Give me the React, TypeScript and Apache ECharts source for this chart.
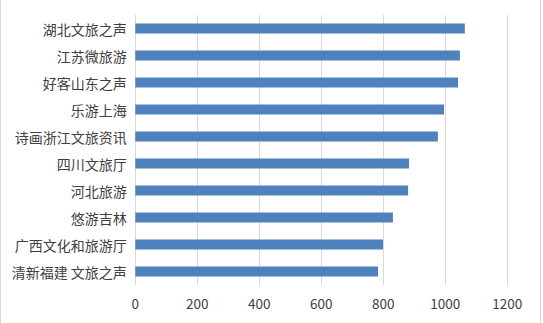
import React, { useEffect, useRef } from "react";
import * as echarts from "echarts";

const categories = [
  "湖北文旅之声",
  "江苏微旅游",
  "好客山东之声",
  "乐游上海",
  "诗画浙江文旅资讯",
  "四川文旅厅",
  "河北旅游",
  "悠游吉林",
  "广西文化和旅游厅",
  "清新福建 文旅之声",
];
const values = [1063, 1047, 1041, 996, 976, 883, 880, 831, 799, 783];
const xTicks = { min: 0, max: 1200, interval: 200 };

export default function App() {
  const ref = useRef<HTMLDivElement>(null);
  useEffect(() => {
    document.body.style.margin = "0";
    const chart = echarts.init(ref.current!, null, { renderer: "svg" });
    const cats = [...categories].reverse();
    const vals = [...values].reverse();
    chart.setOption({
      animation: false,
      backgroundColor: "#ffffff",
      grid: { left: 135.3, right: 35.7, top: 15, bottom: 38, containLabel: false },
      xAxis: {
        type: "value",
        min: xTicks.min,
        max: xTicks.max,
        interval: xTicks.interval,
        axisLine: { show: false },
        axisTick: { show: false },
        splitLine: { show: true, lineStyle: { color: "#D9D9D9", width: 1 } },
        axisLabel: {
          color: "#404040",
          fontSize: 13.5,
          fontFamily: "Noto Sans CJK SC",
          margin: 11,
          formatter: (v: number) => String(v),
        },
      },
      yAxis: {
        type: "category",
        data: cats,
        axisLine: { show: false },
        axisTick: { show: false },
        axisLabel: {
          color: "#404040",
          fontSize: 14,
          fontFamily: "Noto Sans CJK SC",
          margin: 8.5,
        },
      },
      series: [
        {
          type: "bar",
          data: vals,
          barWidth: 10,
          itemStyle: { color: "#4F81BD" },
        },
      ],
      graphic: [
        { type: "line", shape: { x1: 0.5, y1: 0, x2: 0.5, y2: 323 }, style: { stroke: "#D9D9D9", lineWidth: 1 } },
        { type: "line", shape: { x1: 540.5, y1: 0, x2: 540.5, y2: 323 }, style: { stroke: "#D9D9D9", lineWidth: 1 } },
      ],
    });
    return () => chart.dispose();
  }, []);
  return (
    <div
      ref={ref}
      style={{ position: "fixed", left: 0, top: 0, width: 543, height: 323 }}
    />
  );
}
